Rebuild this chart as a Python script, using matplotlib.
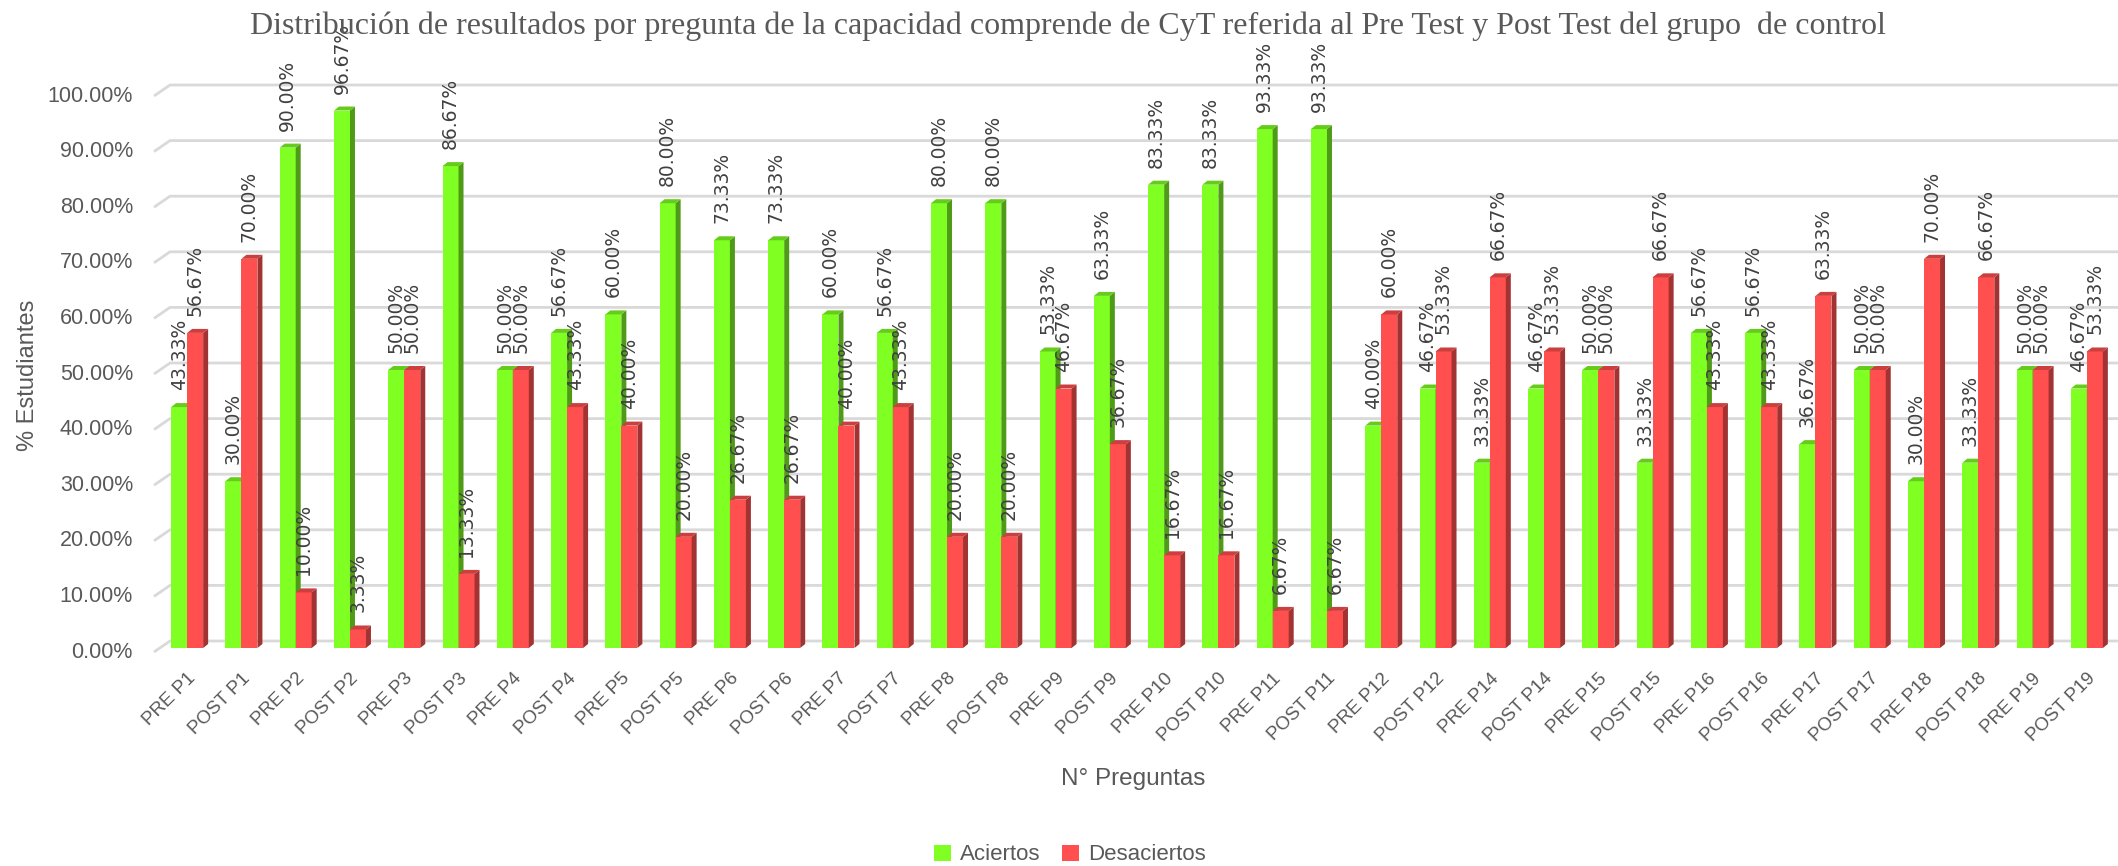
import matplotlib
matplotlib.use("Agg")
import matplotlib.pyplot as plt
from matplotlib.patches import Polygon, Patch
import matplotlib.transforms as mtransforms

categories = ["PRE P1", "POST P1", "PRE P2", "POST P2", "PRE P3", "POST P3",
              "PRE P4", "POST P4", "PRE P5", "POST P5", "PRE P6", "POST P6",
              "PRE P7", "POST P7", "PRE P8", "POST P8", "PRE P9", "POST P9",
              "PRE P10", "POST P10", "PRE P11", "POST P11", "PRE P12", "POST P12",
              "PRE P14", "POST P14", "PRE P15", "POST P15", "PRE P16", "POST P16",
              "PRE P17", "POST P17", "PRE P18", "POST P18", "PRE P19", "POST P19"]
aciertos = [43.33, 30.00, 90.00, 96.67, 50.00, 86.67, 50.00, 56.67, 60.00, 80.00,
            73.33, 73.33, 60.00, 56.67, 80.00, 80.00, 53.33, 63.33, 83.33, 83.33,
            93.33, 93.33, 40.00, 46.67, 33.33, 46.67, 50.00, 33.33, 56.67, 56.67,
            36.67, 50.00, 30.00, 33.33, 50.00, 46.67]
desaciertos = [56.67, 70.00, 10.00, 3.33, 50.00, 13.33, 50.00, 43.33, 40.00, 20.00,
               26.67, 26.67, 40.00, 43.33, 20.00, 20.00, 46.67, 36.67, 16.67, 16.67,
               6.67, 6.67, 60.00, 53.33, 66.67, 53.33, 50.00, 66.67, 43.33, 43.33,
               63.33, 50.00, 70.00, 66.67, 50.00, 53.33]
yticks = [0, 10, 20, 30, 40, 50, 60, 70, 80, 90, 100]
ytick_labels = [f"{t:.2f}%" for t in yticks]
series_names = ["Aciertos", "Desaciertos"]
title = ("Distribución de resultados por pregunta de la capacidad comprende de CyT "
         "referida al Pre Test y Post Test del grupo  de control")
xlabel = "N° Preguntas"
ylabel = "% Estudiantes"

W, H = 2118, 866
DPI = 100
fig = plt.figure(figsize=(W / DPI, H / DPI), dpi=DPI)
ax_left, ax_w = 160.0, 1954.0
ax_bottom_px, ax_h = 648.0, 556.0
ax = fig.add_axes([ax_left / W, (H - ax_bottom_px) / H, ax_w / W, ax_h / H])
ax.set_xlim(-0.5, len(categories) - 0.5)
ax.set_ylim(0, 100)
for s in ax.spines.values():
    s.set_visible(False)
ax.set_yticks([])

px_x = ax_w / len(categories)
px_y = ax_h / 100.0

TICK_COLOR = "#595959"
GRID = "#d9d9d9"
SANS = ["Liberation Sans", "DejaVu Sans"]

# back-wall gridlines
blend = mtransforms.blended_transform_factory(ax.transAxes, ax.transData)
for t, lab in zip(yticks, ytick_labels):
    ax.plot([-6 / ax_w, 10 / ax_w, 1.02], [t - 4 / px_y, t + 7 / px_y, t + 7 / px_y],
            transform=blend, color=GRID, lw=2, clip_on=False, zorder=0.5,
            solid_capstyle="butt")
    ax.annotate(lab, xy=(0, t), xycoords=ax.get_yaxis_transform(),
                xytext=(-27 * 72 / DPI, -4 * 72 / DPI), textcoords="offset points",
                ha="right", va="center", fontsize=15.5, color=TICK_COLOR, family=SANS)

# 3D-like bars
bw = 16.0 / px_x
ddx = 5.0 / px_x
ddy = 4.0 / px_y
styles = [("#7fff22", "#4f9b17", "#66cc1b"), ("#ff4f4f", "#a33333", "#cc3f3f")]
label_off = 17 * 72 / DPI
for k, (vals, (cf, cs, ct)) in enumerate(zip([aciertos, desaciertos], styles)):
    z = 2 + k
    xs = [i + (k - 0.5) * bw for i in range(len(categories))]
    ax.bar(xs, vals, width=bw, color=cf, linewidth=0, zorder=z)
    for x, v in zip(xs, vals):
        xl, xr = x - bw / 2, x + bw / 2
        ax.add_patch(Polygon([(xr, 0), (xr + ddx, ddy), (xr + ddx, v + ddy), (xr, v)],
                             closed=True, facecolor=cs, edgecolor="none", zorder=z,
                             clip_on=False))
        ax.add_patch(Polygon([(xl, v), (xl + ddx, v + ddy), (xr + ddx, v + ddy), (xr, v)],
                             closed=True, facecolor=ct, edgecolor="none", zorder=z,
                             clip_on=False))
        ax.annotate(f"{v:.2f}%", xy=(x, v), xytext=(0, label_off),
                    textcoords="offset points", rotation=90, ha="center", va="bottom",
                    fontsize=13.5, color="#404040", zorder=6, annotation_clip=False,
                    family=["DejaVu Sans"])

ax.set_xticks(range(len(categories)))
ax.set_xticklabels(categories, rotation=45, ha="right", rotation_mode="anchor",
                   fontsize=13.5, color=TICK_COLOR, family=SANS)
ax.tick_params(axis="x", length=0, pad=22 * 72 / DPI)

fig.text(1068 / W, 1 - 26 / H, title, ha="center", va="center", fontsize=23,
         color=TICK_COLOR, family=["Liberation Serif", "DejaVu Serif"])
fig.text(28 / W, 1 - 375 / H, ylabel, ha="center", va="center", rotation=90,
         fontsize=17, color=TICK_COLOR, family=SANS)
fig.text(1133 / W, 1 - 779 / H, xlabel, ha="center", va="center",
         fontsize=17.5, color=TICK_COLOR, family=SANS)

handles = [Patch(facecolor=styles[0][0], edgecolor="none"),
           Patch(facecolor=styles[1][0], edgecolor="none")]
fig.legend(handles, series_names, loc="center", bbox_to_anchor=(1070 / W, 1 - 855 / H),
           ncol=2, frameon=False, handlelength=0.75, handleheight=0.75, handletextpad=0.4,
           columnspacing=1.0, borderpad=0,
           prop={"family": SANS, "size": 16}, labelcolor=TICK_COLOR)

fig.savefig("out.png", dpi=DPI)
